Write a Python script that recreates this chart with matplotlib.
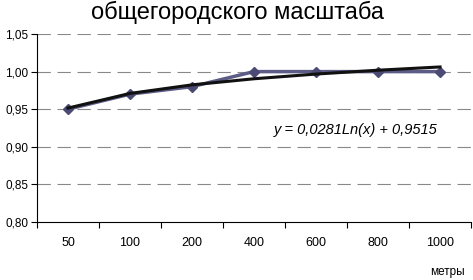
import numpy as np
import matplotlib.pyplot as plt

plt.rcParams['font.family'] = ['Liberation Sans', 'DejaVu Sans']

categories = ['50', '100', '200', '400', '600', '800', '1000']
values = [0.95, 0.97, 0.98, 1.00, 1.00, 1.00, 1.00]
# trend coefficients as printed on the chart
coef_a = 0.0281
coef_b = 0.9515
yticks = [0.80, 0.85, 0.90, 0.95, 1.00, 1.05]

W, H = 473, 280
fig = plt.figure(figsize=(W / 100, H / 100), dpi=100)
ax = fig.add_axes([37 / W, 1 - 222 / H, 434 / W, 188 / H])

x = np.arange(1, len(values) + 1)
trend = coef_a * np.log(x) + coef_b

ax.plot(x, values, color='#5c5c86', lw=2.5, marker='D', markersize=5.5,
        markerfacecolor='#4a4a74', markeredgecolor='#4a4a74', zorder=3)
ax.plot(x, trend, color='#111111', lw=2.2, zorder=4)

ax.set_xlim(0.5, len(values) + 0.5)
ax.set_ylim(0.80, 1.05)
ax.set_yticks(yticks)
ax.set_yticklabels([f'{v:.2f}'.replace('.', ',') for v in yticks], fontsize=8.5)
ax.set_xticks(np.arange(0.5, len(values) + 1, 1))
ax.set_xticklabels([])
ax.set_xticks(x, minor=True)
ax.set_xticklabels(categories, minor=True, fontsize=9)
ax.tick_params(axis='x', which='minor', length=0, pad=11)
ax.tick_params(axis='x', which='major', length=4, direction='out')
ax.tick_params(axis='y', length=4, pad=2)

for v in yticks[1:]:
    ax.axhline(v, color='#888888', lw=0.8, dashes=(12, 6), zorder=1)

for s in ['top', 'right']:
    ax.spines[s].set_visible(False)

fig.text(356 / W, 1 - 130 / H, 'y = 0,0281Ln(x) + 0,9515', fontsize=10.5,
         style='italic', ha='center', va='center')

fig.text(237 / W, 1 - 12 / H, 'общегородского масштаба', fontsize=17,
         ha='center', va='center')
fig.text(447 / W, 1 - 272 / H, 'метры', fontsize=8.5, ha='center', va='center')

fig.savefig('out.png', dpi=100)
